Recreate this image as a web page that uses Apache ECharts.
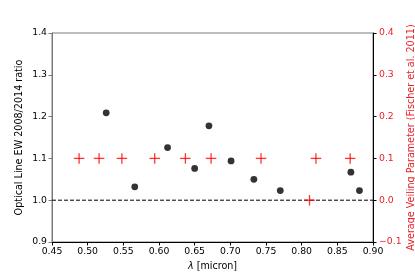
<!DOCTYPE html>
<html>
<head>
<meta charset="utf-8">
<script src="https://cdn.jsdelivr.net/npm/echarts@6/dist/echarts.min.js"></script>
<style>
html,body{margin:0;padding:0;background:#fff;}
#chart{width:415px;height:277px;}
</style>
</head>
<body>
<div id="chart"></div>
<script>
// Optical line EW ratio (black dots)
const lambdaEW = [0.526, 0.566, 0.612, 0.650, 0.670, 0.701, 0.733, 0.770, 0.869, 0.881];
const ewRatio  = [1.209, 1.032, 1.126, 1.076, 1.178, 1.094, 1.050, 1.023, 1.067, 1.023];
// Average veiling parameter (red crosses, right axis)
const lambdaVeil = [0.488, 0.516, 0.548, 0.594, 0.637, 0.673, 0.743, 0.811, 0.820, 0.868];
const veiling    = [0.1, 0.1, 0.1, 0.1, 0.1, 0.1, 0.1, 0.0, 0.1, 0.1];
// Reference level
const refRatio = [1.0];
// Axis tick ranges
const xTicks = [0.45, 0.50, 0.55, 0.60, 0.65, 0.70, 0.75, 0.80, 0.85, 0.90];
const yLeftTicks = [0.9, 1.0, 1.1, 1.2, 1.3, 1.4];
const yRightTicks = [-0.1, 0.0, 0.1, 0.2, 0.3, 0.4];

const FONT = 'DejaVu Sans';
const FS = 9.3;
const NFS = 9.6;

const ewData = lambdaEW.map((x, i) => [x, ewRatio[i]]);
const veilData = lambdaVeil.map((x, i) => [x, veiling[i]]);

const chart = echarts.init(document.getElementById('chart'), null, {renderer: 'canvas'});
chart.setOption({
  animation: false,
  backgroundColor: '#fff',
  textStyle: {fontFamily: FONT},
  grid: {left: 52, right: 42, top: 33, bottom: 35, containLabel: false, outerBoundsMode: 'none', show: true, borderColor: '#7a7a7a', borderWidth: 1, backgroundColor: 'transparent'},
  xAxis: {
    type: 'value',
    min: xTicks[0], max: xTicks[xTicks.length - 1], interval: 0.05,
    splitLine: {show: false},
    axisLine: {show: true, onZero: false, lineStyle: {color: '#000', width: 1}},
    axisTick: {show: true, length: 3.5, lineStyle: {color: '#000', width: 1}},
    axisLabel: {color: '#000', fontFamily: FONT, fontSize: FS, margin: 5, formatter: v => v.toFixed(2), showMinLabel: true, showMaxLabel: true},
    name: '{i|λ} [micron]',
    nameLocation: 'middle',
    nameGap: 19,
    nameMoveOverlap: false,
    nameTextStyle: {color: '#000', fontFamily: FONT, fontSize: NFS, rich: {i: {fontStyle: 'italic', fontFamily: FONT, fontSize: NFS, color: '#000'}}}
  },
  yAxis: [
    {
      type: 'value',
      position: 'left',
      min: yLeftTicks[0], max: yLeftTicks[yLeftTicks.length - 1], interval: 0.1,
      splitLine: {show: false},
      axisLine: {show: true, onZero: false, lineStyle: {color: '#7a7a7a', width: 1}},
      axisTick: {show: true, length: 3.5, lineStyle: {color: '#7a7a7a', width: 1}},
      axisLabel: {color: '#000', fontFamily: FONT, fontSize: FS, margin: 5, formatter: v => v.toFixed(1), showMinLabel: true, showMaxLabel: true},
      name: 'Optical Line EW 2008/2014 ratio',
      nameLocation: 'middle',
      nameRotate: 90,
      nameGap: 28,
      nameMoveOverlap: false,
      nameTextStyle: {color: '#000', fontFamily: FONT, fontSize: NFS}
    },
    {
      type: 'value',
      position: 'right',
      min: yRightTicks[0], max: yRightTicks[yRightTicks.length - 1], interval: 0.1,
      splitLine: {show: false},
      axisLine: {show: true, onZero: false, lineStyle: {color: '#000', width: 1}},
      axisTick: {show: true, length: 3.5, lineStyle: {color: '#000', width: 1}},
      axisLabel: {color: '#e8222a', fontFamily: FONT, fontSize: FS, margin: 6, formatter: v => v.toFixed(1).replace('-', '\u2212'), showMinLabel: true, showMaxLabel: true},
      name: 'Average Veiling Parameter (Fischer et al. 2011)',
      nameLocation: 'middle',
      nameRotate: 90,
      nameGap: 33,
      nameMoveOverlap: false,
      nameTextStyle: {color: '#e8222a', fontFamily: FONT, fontSize: NFS}
    }
  ],
  series: [
    {
      type: 'line',
      yAxisIndex: 0,
      data: [[xTicks[0], refRatio[0]], [xTicks[xTicks.length - 1], refRatio[0]]],
      symbol: 'none',
      lineStyle: {color: '#000', width: 1, type: [4, 2]},
      z: 1,
      silent: true
    },
    {
      type: 'scatter',
      yAxisIndex: 0,
      data: ewData,
      symbol: 'circle',
      symbolSize: 6.8,
      itemStyle: {color: '#000'},
      z: 3
    },
    {
      type: 'scatter',
      yAxisIndex: 1,
      data: veilData,
      symbol: 'rect',
      symbolSize: [10.5, 1.3],
      itemStyle: {color: '#ff0000'},
      z: 4
    },
    {
      type: 'scatter',
      yAxisIndex: 1,
      data: veilData,
      symbol: 'rect',
      symbolSize: [1.3, 10.5],
      itemStyle: {color: '#ff0000'},
      z: 4
    }
  ]
});
</script>
</body>
</html>
